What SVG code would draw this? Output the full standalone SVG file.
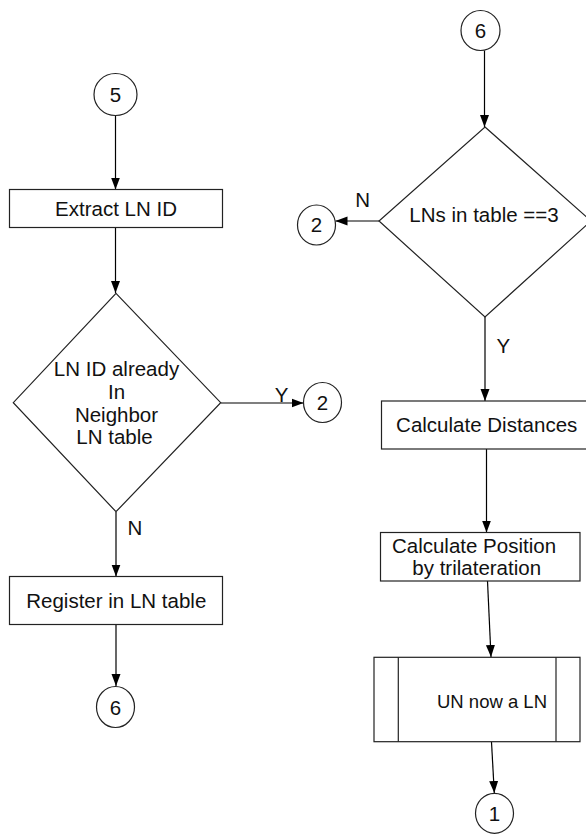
<svg xmlns="http://www.w3.org/2000/svg" width="586" height="836" viewBox="0 0 586 836">
<defs>
<marker id="arr" markerWidth="12" markerHeight="10" refX="12" refY="5" orient="auto" markerUnits="userSpaceOnUse">
<path d="M0,0.5 L12,5 L0,9.5 Z" fill="#000"/>
</marker>
<style>
.sh{fill:#fff;stroke:#222;stroke-width:1.2}
.t{font-family:"Liberation Sans",Arial,sans-serif;font-size:20.5px;fill:#111;text-anchor:middle}
.c{fill:none;stroke:#000;stroke-width:1.2;marker-end:url(#arr)}
</style>
</defs>
<rect width="586" height="836" fill="#fff"/>
<g id="connectors">
<line class="c" x1="115.5" y1="116" x2="115.5" y2="189.5"/>
<line class="c" x1="115.5" y1="227.5" x2="115.5" y2="293"/>
<line class="c" x1="221" y1="403" x2="303.5" y2="403"/>
<line class="c" x1="116" y1="512" x2="116" y2="576.5"/>
<line class="c" x1="116" y1="625" x2="116" y2="686"/>
<line class="c" x1="484.5" y1="50.5" x2="484.5" y2="127"/>
<line class="c" x1="379" y1="221" x2="335.5" y2="221"/>
<line class="c" x1="485" y1="317" x2="485" y2="401"/>
<line class="c" x1="486.5" y1="449" x2="486.5" y2="532.5"/>
<line class="c" x1="487.5" y1="581" x2="491" y2="657"/>
<line class="c" x1="491.5" y1="742" x2="494.3" y2="793"/>
<text class="t" x="281.7" y="401.5">Y</text>
<text class="t" x="135" y="535">N</text>
<text class="t" x="362.7" y="206.5">N</text>
<text class="t" x="503.3" y="352.5">Y</text>
</g>
<g id="c5">
<ellipse class="sh" cx="115.5" cy="94.5" rx="21.5" ry="21"/>
<text class="t" x="115.5" y="102">5</text>
</g>
<g id="extract">
<rect class="sh" x="9.5" y="189.5" width="213" height="38"/>
<text class="t" x="116" y="215.5">Extract LN ID</text>
</g>
<g id="dec1">
<polygon class="sh" points="116,293.3 220.7,402.7 116,511.7 13.3,402.7"/>
<text class="t" x="116.5" y="376">LN ID already</text>
<text class="t" x="116.5" y="398.5">In</text>
<text class="t" x="116.5" y="421.5">Neighbor</text>
<text class="t" x="114.5" y="444">LN table</text>
</g>
<g id="c2a">
<ellipse class="sh" cx="322.5" cy="402.5" rx="19" ry="20"/>
<text class="t" x="322.5" y="409.5">2</text>
</g>
<g id="register">
<rect class="sh" x="9.5" y="576.5" width="213" height="48"/>
<text class="t" x="116.3" y="607.5">Register in LN table</text>
</g>
<g id="c6a">
<ellipse class="sh" cx="115.5" cy="707" rx="19" ry="20.5"/>
<text class="t" x="115.5" y="714.5">6</text>
</g>
<g id="c6b">
<ellipse class="sh" cx="480.5" cy="30.5" rx="19.5" ry="20"/>
<text class="t" x="480.5" y="38">6</text>
</g>
<g id="dec2">
<polygon class="sh" points="485,127 591,221 485,317 379,221"/>
<text class="t" x="484" y="221.5">LNs in table ==3</text>
</g>
<g id="c2b">
<ellipse class="sh" cx="316.5" cy="225" rx="19" ry="20"/>
<text class="t" x="316.5" y="232">2</text>
</g>
<g id="dist">
<rect class="sh" x="381.5" y="401" width="210" height="48"/>
<text class="t" x="486.7" y="432">Calculate Distances</text>
</g>
<g id="pos">
<rect class="sh" x="380.5" y="532.5" width="199.5" height="48.5"/>
<text class="t" x="474" y="553.3">Calculate Position</text>
<text class="t" x="476.7" y="575">by trilateration</text>
</g>
<g id="un">
<rect class="sh" x="374" y="657.3" width="206" height="84.4"/>
<line class="sh" x1="398.3" y1="657.3" x2="398.3" y2="741.7"/>
<line class="sh" x1="556" y1="657.3" x2="556" y2="741.7"/>
<text class="t" x="492" y="708.3" style="font-size:18.5px">UN now a LN</text>
</g>
<g id="c1">
<ellipse class="sh" cx="494.5" cy="813.3" rx="19" ry="20"/>
<text class="t" x="494.5" y="820.5">1</text>
</g>
</svg>
